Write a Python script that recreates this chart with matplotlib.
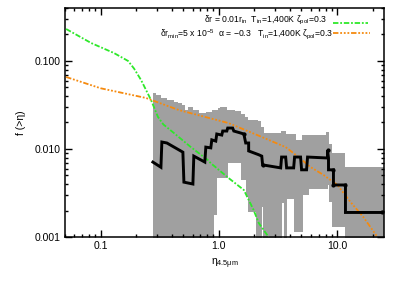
import numpy as np
import matplotlib
matplotlib.use("Agg")
import matplotlib.pyplot as plt
from matplotlib.ticker import LogLocator, FixedLocator, NullFormatter

plt.rcParams["font.family"] = ["Liberation Sans", "DejaVu Sans"]
plt.rcParams["mathtext.default"] = "regular"

# ── data ──────────────────────────────────────────────────────────────────────
# model curve 1 (green): δr = 0.01 r_in
green_eta = [0.0511, 0.0832, 0.130, 0.149, 0.171, 0.192, 0.220, 0.267, 0.306,
             0.340, 0.417, 0.581, 0.807, 0.856, 1.21, 1.63, 1.97, 2.18, 2.64]
green_f = [0.231, 0.160, 0.123, 0.111, 0.100, 0.082, 0.0608, 0.0361, 0.0231,
           0.0190, 0.0152, 0.0105, 0.0075, 0.0069, 0.00468, 0.00342, 0.00203,
           0.00144, 0.00100]

# model curve 2 (orange): power-law distribution
orange_eta = [0.0511, 0.100, 0.242, 0.459, 1.21, 2.31, 3.68, 4.73, 5.97, 7.69,
              10.1, 13.0, 16.7, 22.0]
orange_f = [0.0658, 0.049, 0.0380, 0.0277, 0.0197, 0.0137, 0.0105, 0.0081,
            0.00624, 0.00507, 0.0039, 0.0025, 0.00169, 0.00100]

# observed cumulative distribution (black)
obs_eta = [0.277, 0.324, 0.330, 0.364, 0.497, 0.507, 0.604, 0.615, 0.762, 0.777,
           0.856, 0.873, 0.943, 0.962, 1.06, 1.08, 1.17, 1.19, 1.31, 1.34, 1.53,
           1.63, 1.69, 1.79, 1.79, 2.18, 2.31, 2.35, 3.34, 3.40, 3.68, 3.75, 4.30,
           4.38, 4.92, 5.02, 5.53, 5.64, 8.32, 8.32, 8.48, 8.48, 9.34, 9.34, 11.8,
           11.8, 24.2]
obs_f = [0.0071, 0.0062, 0.0120, 0.0117, 0.0092, 0.0042, 0.0040, 0.0083, 0.0071,
         0.0105, 0.0103, 0.0127, 0.0123, 0.0148, 0.0144, 0.0160, 0.0160, 0.0173,
         0.0173, 0.0160, 0.0152, 0.0148, 0.0117, 0.0117, 0.0095, 0.0086, 0.0083,
         0.0066, 0.0061, 0.0081, 0.0081, 0.0061, 0.0061, 0.0081, 0.0081, 0.0058,
         0.0058, 0.0081, 0.0079, 0.0097, 0.0079, 0.0058, 0.0058, 0.0039, 0.0039,
         0.0019, 0.0019]
obs_marked = [21, 27, 39, 42, 43, 44, 46]

# uncertainty band (gray), step edges
band_up_eta = [0.277, 0.294, 0.324, 0.364, 0.417, 0.451, 0.487, 0.516, 0.547,
               0.604, 0.678, 0.777, 0.873, 0.981, 1.02, 1.17, 1.36, 1.53, 1.66,
               1.76, 2.13, 2.26, 2.40, 3.34, 3.68, 4.30, 4.47, 5.02, 8.15, 8.48,
               9.16, 11.8, 25.2]
band_up_f = [0.0433, 0.0411, 0.0380, 0.0360, 0.0342, 0.0333, 0.0316, 0.0277,
             0.0300, 0.0277, 0.0257, 0.0263, 0.0277, 0.0292, 0.0300, 0.0277,
             0.0270, 0.0250, 0.0231, 0.0214, 0.0208, 0.0178, 0.0152, 0.0160,
             0.0148, 0.0148, 0.0127, 0.0144, 0.0156, 0.0114, 0.0090, 0.00624,
             0.00624]
band_lo_eta = [0.277, 0.908, 0.962, 1.19, 1.53, 1.69, 1.76, 2.05, 2.31, 2.35,
               3.40, 3.54, 3.75, 4.30, 5.11, 5.75, 8.32, 8.48, 9.16, 11.8, 25.2]
band_lo_f = [1e-4, 0.00178, 0.00468, 0.00693, 0.00444, 0.00285, 0.00192, 1e-4,
             0.00219, 1e-4, 0.00243, 1e-4, 0.00270, 0.00114, 0.0030, 0.00351,
             0.0039, 0.0025, 0.00130, 1e-4, 1e-4]

label_green = r"δr = 0.01r$_{in}$  T$_{in}$=1,400K ζ$_{pol}$=0.3"
label_orange = r"δr$_{min}$=5 x 10$^{-5}$  α = −0.3   T$_{in}$=1,400K ζ$_{pol}$=0.3"

GREEN = "#2ee82a"
ORANGE = "#f58a0f"


def step_at(edges, vals, x):
    idx = np.searchsorted(edges, x, side="right") - 1
    return np.asarray(vals)[np.clip(idx, 0, len(vals) - 1)]


fig = plt.figure(figsize=(3.99, 2.85), dpi=100)
ax = fig.add_axes([65 / 399, 48 / 285, 319 / 399, 229 / 285])

# gray band
edges = np.unique(np.concatenate([band_up_eta, band_lo_eta]))
ax.fill_between(edges, step_at(band_lo_eta, band_lo_f, edges),
                step_at(band_up_eta, band_up_f, edges),
                step="post", color="#a0a0a0", lw=0, zorder=1)

ax.plot(green_eta, green_f, color=GREEN, lw=1.3,
        ls=(0, (3, 1, 1, 1)), zorder=3)
ax.plot(orange_eta, orange_f, color=ORANGE, lw=1.3,
        ls=(0, (3, 1, 1, 1, 1, 1, 1, 1)), zorder=3)
ax.plot(obs_eta, obs_f, color="black", lw=2.1, marker="o", ms=2.0,
        markevery=obs_marked, solid_joinstyle="miter", zorder=4)

ax.set_xscale("log")
ax.set_yscale("log")
ax.set_xlim(0.05, 25)
ax.set_ylim(0.001, 0.40)

ax.xaxis.set_major_locator(FixedLocator([0.1, 1.0, 10.0]))
ax.set_xticklabels(["0.1", "1.0", "10.0"])
ax.yaxis.set_major_locator(FixedLocator([0.001, 0.01, 0.1]))
ax.set_yticklabels(["0.001", "0.010", "0.100"])
ax.xaxis.set_minor_locator(LogLocator(base=10, subs=np.arange(2, 10)))
ax.yaxis.set_minor_locator(LogLocator(base=10, subs=np.arange(2, 10)))
ax.xaxis.set_minor_formatter(NullFormatter())
ax.yaxis.set_minor_formatter(NullFormatter())
ax.tick_params(which="both", direction="in", top=True, right=True,
               labelsize=7.5, width=1.0, pad=3)
ax.tick_params(which="major", length=5)
ax.tick_params(which="minor", length=2.5)
for s in ax.spines.values():
    s.set_linewidth(1.1)

ax.set_xlabel(r"η$_{4.5μm}$", fontsize=7.5, labelpad=4)
ax.set_ylabel("f (>η)", fontsize=7.5, labelpad=6)

# legend drawn by hand (text right-aligned, line sample on the right)
ax.text(0.821, 0.944, label_green, transform=ax.transAxes, ha="right",
        va="center", fontsize=6.2)
ax.text(0.840, 0.884, label_orange, transform=ax.transAxes, ha="right",
        va="center", fontsize=6.2)
ax.plot([0.840, 0.950], [0.936, 0.936], transform=ax.transAxes,
        color=GREEN, lw=1.3, ls=(0, (3, 1, 1, 1)))
ax.plot([0.840, 0.956], [0.891, 0.891], transform=ax.transAxes,
        color=ORANGE, lw=1.3, ls=(0, (3, 1, 1, 1, 1, 1, 1, 1)))

fig.savefig("out.png", dpi=100)
